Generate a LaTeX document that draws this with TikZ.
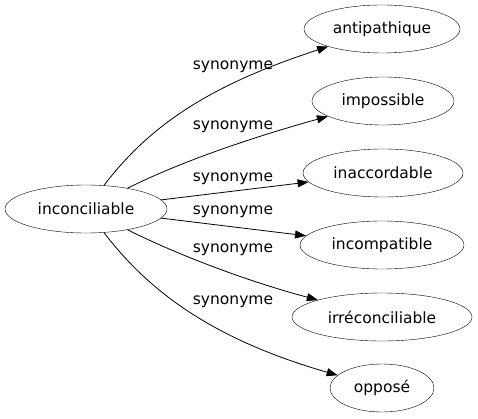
\documentclass[tikz,border=0pt]{standalone}
\usepackage{fontspec}
\setmainfont{DejaVu Sans}
\usetikzlibrary{shapes.geometric,arrows.meta}
\begin{document}
\begin{tikzpicture}[x=1pt,y=-1pt,
  word/.style={draw,ellipse,inner sep=0pt,minimum height=48pt,font=\fontsize{15.5}{18}\selectfont},
  lab/.style={inner sep=0pt,font=\fontsize{15.5}{18}\selectfont},
  rel/.style={line width=0.8pt,-{Triangle[length=11pt,width=8pt]}}]
\useasboundingbox (0,0) rectangle (478,419);
\node[word,minimum width=162pt] (src) at (86,209) {inconciliable};
\node[word,minimum width=156pt] (a) at (382,29) {antipathique};
\node[word,minimum width=142pt] (b) at (383,101) {impossible};
\node[word,minimum width=160pt] (c) at (383,173) {inaccordable};
\node[word,minimum width=164pt] (d) at (382,245) {incompatible};
\node[word,minimum width=180pt] (e) at (382,317) {irréconciliable};
\node[word,minimum width=104pt] (f) at (382,388) {opposé};
\node[lab] (la) at (233,67) {synonyme};
\node[lab] (lb) at (233,127) {synonyme};
\node[lab] (lc) at (233,179) {synonyme};
\node[lab] (ld) at (233,212) {synonyme};
\node[lab] (le) at (233,250) {synonyme};
\node[lab] (lf) at (233,302) {synonyme};
\draw[rel] (src) .. controls (150,125) and (210,85) .. (a);
\draw[rel] (src) .. controls (180,162) and (250,138) .. (b);
\draw[rel] (src) -- (c);
\draw[rel] (src) -- (d);
\draw[rel] (src) .. controls (180,256) and (250,282) .. (e);
\draw[rel] (src) .. controls (150,293) and (215,340) .. (f);
\end{tikzpicture}
\end{document}
